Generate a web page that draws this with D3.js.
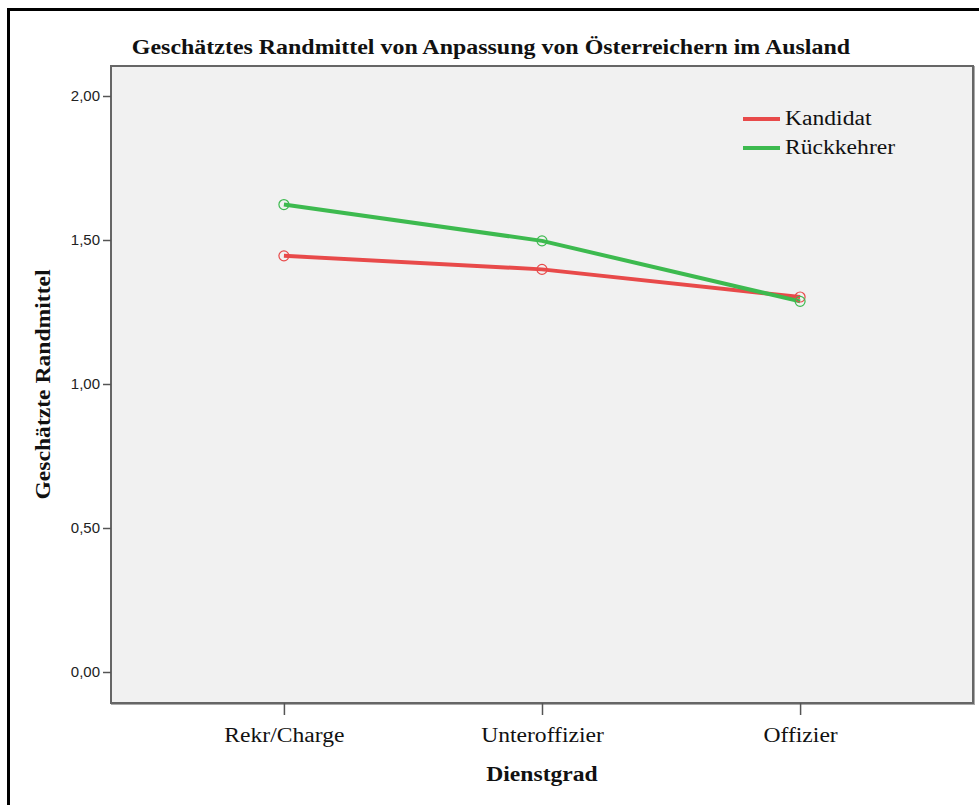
<!DOCTYPE html>
<html><head><meta charset="utf-8">
<script src="https://cdn.jsdelivr.net/npm/d3@7"></script>
<style>body{margin:0;background:#fff;}svg{display:block;}</style>
</head><body>
<script>
const categories = ["Rekr/Charge", "Unteroffizier", "Offizier"];
const seriesNames = ["Kandidat", "Rückkehrer"];
const kandidat = [1.445, 1.398, 1.302];
const rueckkehrer = [1.623, 1.497, 1.287];
const yTicks = [0, 0.5, 1.0, 1.5, 2.0];
const colors = ["#e84a4a", "#3dba4f"];
const titleText = "Geschätztes Randmittel von Anpassung von Österreichern im Ausland";
const xTitle = "Dienstgrad";
const yTitle = "Geschätzte Randmittel";

const W = 979, H = 805;
const svg = d3.select("body").append("svg").attr("width", W).attr("height", H);
const serif = "'Liberation Serif','Times New Roman',serif";
const sans = "'Liberation Sans',Arial,sans-serif";
const stretch = 1.18;

function stretchText(sel){
  sel.each(function(){
    const w = this.getComputedTextLength();
    d3.select(this).attr("textLength", w*stretch).attr("lengthAdjust","spacingAndGlyphs");
  });
}

// outer frame
svg.append("rect").attr("x",8.5).attr("y",9.5).attr("width",W+20).attr("height",H+20)
  .attr("fill","none").attr("stroke","#000").attr("stroke-width",3);

const plot = {l:111, r:973, t:66, b:703};
const y = d3.scaleLinear().domain([0, 2]).range([672, 96]);
const x = d3.scalePoint().domain(categories).range([plot.l, plot.r]).padding(0.67);

// plot background with shadow
svg.append("rect").attr("x",plot.l+1).attr("y",plot.t+1).attr("width",plot.r-plot.l).attr("height",plot.b-plot.t)
  .attr("fill","none").attr("stroke","#aaa").attr("stroke-width",2);
svg.append("rect").attr("x",plot.l).attr("y",plot.t).attr("width",plot.r-plot.l).attr("height",plot.b-plot.t)
  .attr("fill","#f1f1f1").attr("stroke","#666").attr("stroke-width",2);

// y axis
const yAxis = d3.axisLeft(y).tickValues(yTicks).tickSize(8).tickPadding(3)
  .tickFormat(d => d3.format(".2f")(d).replace(".", ","));
const gy = svg.append("g").attr("transform",`translate(${plot.l},0)`).call(yAxis);
gy.select(".domain").remove();
gy.selectAll(".tick line").attr("stroke","#555").attr("stroke-width",1.5);
gy.selectAll(".tick text").attr("font-family",sans).attr("font-size",15).attr("fill","#222");

// x axis
const xAxis = d3.axisBottom(x).tickSize(12).tickPadding(13);
const gx = svg.append("g").attr("transform",`translate(0,${plot.b})`).call(xAxis);
gx.select(".domain").remove();
gx.selectAll(".tick line").attr("stroke","#555").attr("stroke-width",1.5);
gx.selectAll(".tick text").attr("font-family",serif).attr("font-size",20).attr("fill","#111").call(stretchText);

// titles
svg.append("text").attr("x",491).attr("y",54).attr("text-anchor","middle")
  .attr("font-family",serif).attr("font-weight","bold").attr("font-size",20.3).attr("fill","#111")
  .text(titleText).call(stretchText);
svg.append("text").attr("x",(plot.l+plot.r)/2).attr("y",781).attr("text-anchor","middle")
  .attr("font-family",serif).attr("font-weight","bold").attr("font-size",20).attr("fill","#111")
  .text(xTitle).call(stretchText);
svg.append("text").attr("transform",`translate(50,${(plot.t+plot.b)/2}) rotate(-90)`).attr("text-anchor","middle")
  .attr("font-family",serif).attr("font-weight","bold").attr("font-size",20).attr("fill","#111")
  .text(yTitle).call(stretchText);

// series
const series = [kandidat, rueckkehrer];
const line = d3.line().x((d,i)=>x(categories[i])).y(d=>y(d));
series.forEach((vals, si) => {
  svg.append("path").datum(vals).attr("d", line).attr("fill","none")
    .attr("stroke", colors[si]).attr("stroke-width",4).attr("stroke-linejoin","round");
});
series.forEach((vals, si) => {
  svg.selectAll(null).data(vals).enter().append("circle")
    .attr("cx",(d,i)=>x(categories[i])).attr("cy",d=>y(d)).attr("r",5)
    .attr("fill","none").attr("stroke",colors[si]).attr("stroke-width",1.2);
});

// legend
const lg = svg.append("g");
seriesNames.forEach((n, i) => {
  const yy = 119 + i*29;
  lg.append("line").attr("x1",743).attr("x2",780).attr("y1",yy).attr("y2",yy)
    .attr("stroke",colors[i]).attr("stroke-width",4);
  lg.append("text").attr("x",785).attr("y",yy+6).attr("font-family",serif).attr("font-size",20)
    .attr("fill","#111").text(n).call(stretchText);
});
</script>
</body></html>
